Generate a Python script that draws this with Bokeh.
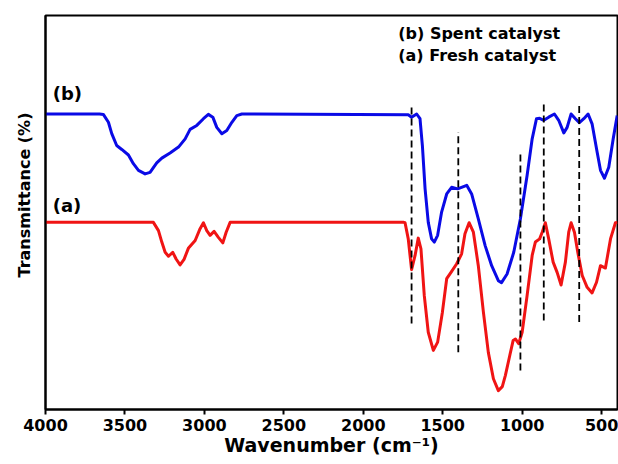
from bokeh.plotting import figure
from bokeh.models import Range1d, FixedTicker, Title
from bokeh.core.properties import value
from bokeh.embed import file_html
from bokeh.resources import INLINE

# ---- data (wavenumber cm^-1, transmittance in arbitrary %) ----
spent_wn = [4000, 3660, 3636, 3604, 3583, 3552, 3520, 3478, 3447, 3415, 3373, 3342, 3300,
            3268, 3216, 3163, 3121, 3090, 3048, 3006, 2975, 2947, 2922, 2890, 2859, 2827,
            2796, 2764, 1717, 1696, 1664, 1643, 1628, 1611, 1591, 1570, 1553, 1532, 1507,
            1475, 1444, 1406, 1349, 1318, 1276, 1233, 1192, 1150, 1130, 1095, 1053, 1011,
            969, 937, 910, 890, 864, 833, 797, 770, 738, 717, 692, 665, 640, 612, 585, 560,
            528, 507, 482, 455, 427, 402]
spent_t = [75.0, 75.0, 74.9, 72.9, 70.0, 67.0, 66.0, 64.6, 62.4, 60.7, 59.8, 60.2, 62.6,
           63.8, 65.1, 66.6, 68.7, 71.1, 72.1, 73.8, 74.9, 74.2, 71.6, 70.0, 70.8, 72.9,
           74.6, 75.0, 74.8, 74.2, 75.0, 73.8, 67.0, 56.0, 47.5, 43.3, 42.5, 44.2, 50.1,
           54.7, 56.4, 56.0, 56.9, 54.7, 48.4, 41.6, 36.5, 32.7, 32.2, 34.4, 39.9, 48.4,
           59.4, 68.7, 73.8, 73.9, 73.4, 74.2, 75.0, 73.4, 70.2, 71.6, 75.0, 73.8, 72.8,
           73.8, 75.0, 72.5, 65.3, 60.7, 58.7, 61.5, 68.7, 74.6]

fresh_wn = [4000, 3321, 3289, 3268, 3247, 3226, 3199, 3178, 3153, 3128, 3101, 3058, 3027,
            3006, 2985, 2964, 2939, 2912, 2884, 2863, 2838, 1745, 1737, 1717, 1696, 1674,
            1654, 1637, 1616, 1591, 1559, 1532, 1502, 1475, 1448, 1412, 1381, 1360, 1334,
            1307, 1276, 1244, 1213, 1181, 1150, 1125, 1106, 1078, 1057, 1042, 1022, 1000,
            969, 937, 917, 890, 874, 854, 833, 805, 780, 755, 728, 707, 692, 671, 650, 622,
            591, 560, 532, 507, 476, 444, 413, 400]
fresh_t = [47.5, 47.5, 45.4, 42.5, 39.9, 38.9, 39.9, 38.2, 36.7, 38.1, 40.9, 42.9, 45.9,
           47.4, 45.4, 44.2, 45.2, 43.7, 42.3, 45.0, 47.5, 47.5, 47.4, 43.3, 35.5, 39.1,
           43.5, 40.8, 28.9, 19.6, 15.0, 17.1, 24.7, 33.2, 34.8, 37.0, 39.5, 44.6, 47.4,
           45.0, 36.5, 24.7, 14.5, 7.8, 4.8, 5.8, 8.6, 13.7, 17.5, 17.9, 16.7, 19.6,
           28.9, 39.1, 42.5, 43.3, 45.0, 47.4, 43.3, 37.4, 34.8, 31.6, 37.4, 45.0, 47.4,
           45.0, 39.9, 34.0, 31.0, 29.6, 32.3, 36.5, 35.9, 43.3, 47.4, 47.5]

marker_wn = [1696, 1402, 1011, 864, 641]
marker_top = [77.6, 70.4, 65.7, 78.4, 77.7]
marker_bottom = [21.8, 14.5, 9.9, 22.6, 22.2]

x_ticks = [500, 1000, 1500, 2000, 2500, 3000, 3500, 4000]

curve_labels = ["(b)", "(a)"]
curve_label_wn = [3955, 3955]
curve_label_t = [80.2, 51.8]

legend_labels = ["(b) Spent catalyst", "(a) Fresh catalyst"]
legend_wn = [1780, 1780]
legend_t = [95.4, 89.8]

y_title = "Transmittance (%)"
x_title = "Wavenumber (cm\u207b\u00b9)"

FONT = "DejaVu Sans"

p = figure(width=618, height=464, output_backend="svg", toolbar_location=None,
           x_range=Range1d(4000, 400), y_range=Range1d(0, 100),
           min_border_left=45, min_border_right=1, min_border_top=15, min_border_bottom=55)
p.background_fill_color = "white"
p.border_fill_color = "white"
p.outline_line_color = "black"
p.outline_line_width = 2
p.grid.visible = False

p.xaxis.ticker = FixedTicker(ticks=x_ticks)
p.xaxis.minor_tick_line_color = None
p.xaxis.major_tick_in = 0
p.xaxis.major_tick_out = 5
p.xaxis.major_tick_line_width = 2
p.xaxis.axis_line_width = 2
p.xaxis.major_label_text_font = FONT
p.xaxis.major_label_text_font_style = "bold"
p.xaxis.major_label_text_font_size = "16px"
p.xaxis.major_label_text_color = "black"
p.xaxis.major_label_standoff = 4
p.xaxis.axis_label = x_title
p.xaxis.axis_label_text_font = FONT
p.xaxis.axis_label_text_font_style = "bold"
p.xaxis.axis_label_text_font_size = "19px"
p.xaxis.axis_label_text_color = "black"
p.xaxis.axis_label_standoff = 0

p.yaxis.ticker = FixedTicker(ticks=[])
p.yaxis.minor_tick_line_color = None
p.yaxis.major_tick_line_color = None
p.yaxis.axis_line_width = 2

# y-axis title as a side title, starting a little above the frame bottom as in the original
p.add_layout(Title(text=y_title, align="left", offset=132, standoff=23,
                   text_font=FONT, text_font_style="bold", text_font_size="16px",
                   text_color="black"), "left")

p.line(spent_wn, spent_t, line_color="#0a0ae6", line_width=3, line_join="round")
p.line(fresh_wn, fresh_t, line_color="#f01414", line_width=3, line_join="round")

p.segment(x0=marker_wn, x1=marker_wn, y0=marker_bottom, y1=marker_top,
          line_color="black", line_width=1.8, line_dash="7 4")

p.text(x=curve_label_wn, y=curve_label_t, text=curve_labels, text_font=value(FONT),
       text_font_style="bold", text_font_size="18px", text_align="left",
       text_baseline="middle", text_color="black")
p.text(x=legend_wn, y=legend_t, text=legend_labels, text_font=value(FONT),
       text_font_style="bold", text_font_size="16px", text_align="left",
       text_baseline="middle", text_color="black")

open("out.html", "w").write(file_html(p, INLINE))
